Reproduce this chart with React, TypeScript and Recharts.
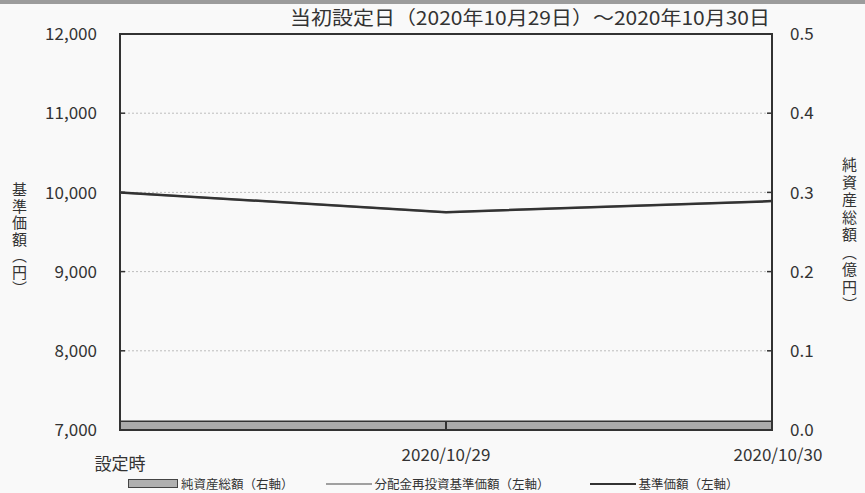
import { ComposedChart, Line, Area, XAxis, YAxis, CartesianGrid, ReferenceArea } from "recharts"

const labels = ["設定時", "2020/10/29", "2020/10/30"]
const navPrice = [10000, 9750, 9890]
const reinvestPrice = [10000, 9750, 9890]
const netAssets = [0.011, 0.011, 0.011]
const leftTicks = [7000, 8000, 9000, 10000, 11000, 12000]
const rightTicks = [0, 0.1, 0.2, 0.3, 0.4, 0.5]

const data = labels.map((label, i) => ({
  label,
  nav: navPrice[i],
  reinvest: reinvestPrice[i],
  assets: netAssets[i],
}))

const FONT = '"Noto Sans CJK JP", "Noto Sans", sans-serif'
const INK = "#333"

function LeftTick({ x, y, payload }: any) {
  return (
    <g>
      <line x1={x} x2={x + 5} y1={y} y2={y} stroke={INK} strokeWidth={1.5} />
      <text x={x - 23} y={y} dy="0.36em" textAnchor="end" fontSize={17} fill={INK} fontFamily={FONT}>
        {Number(payload.value).toLocaleString("en-US")}
      </text>
    </g>
  )
}

function RightTick({ x, y, payload }: any) {
  return (
    <g>
      <line x1={x - 5} x2={x} y1={y} y2={y} stroke={INK} strokeWidth={1.5} />
      <text x={x + 18} y={y} dy="0.36em" textAnchor="start" fontSize={17} fill={INK} fontFamily={FONT}>
        {Number(payload.value).toFixed(1)}
      </text>
    </g>
  )
}

function BottomTick({ x, y, payload, index }: any) {
  const first = index === 0
  const last = index === labels.length - 1
  return (
    <g>
      <line x1={x} x2={x} y1={y - 9} y2={y} stroke={INK} strokeWidth={2} />
      <text
        x={x + (last ? 6 : 0)}
        y={y + (first ? 40 : 31)}
        textAnchor="middle"
        fontSize={17}
        fill={INK}
        fontFamily={FONT}
      >
        {payload.value}
      </text>
    </g>
  )
}

function LegendItem({ kind, text, gap }: { kind: "box" | "grey" | "black"; text: string; gap: number }) {
  const swatch =
    kind === "box" ? (
      <span style={{ display: "inline-block", width: 48, height: 7, background: "#b0b0b0", border: "1px solid #444" }} />
    ) : (
      <span style={{ display: "inline-block", width: 46, height: 2, background: kind === "grey" ? "#a0a0a0" : INK }} />
    )
  return (
    <span style={{ display: "inline-flex", alignItems: "center", gap: 3, marginRight: gap }}>
      {swatch}
      <span>{text}</span>
    </span>
  )
}

export default function App() {
  return (
    <div style={{ position: "relative", width: 865, height: 493, background: "#f9f9f9", fontFamily: FONT, color: INK }}>
      <style>{"body{margin:0}"}</style>
      <div style={{ position: "absolute", left: 0, top: 0, width: 865, height: 4, background: "#9c9c9c" }} />
      <ComposedChart width={865} height={493} data={data} margin={{ top: 34, right: 0, bottom: 0, left: 0 }}>
        <CartesianGrid yAxisId="left" vertical={false} stroke="#bdbdbd" strokeDasharray="2 2" />
        <XAxis
          dataKey="label"
          scale="point"
          padding={{ left: 0, right: 0 }}
          axisLine={false}
          tickLine={false}
          tickSize={0}
          tickMargin={0}
          height={63}
          interval={0}
          tick={<BottomTick />}
        />
        <YAxis
          yAxisId="left"
          domain={[7000, 12000]}
          ticks={leftTicks}
          width={120}
          axisLine={false}
          tickLine={false}
          tickSize={0}
          tickMargin={0}
          tick={<LeftTick />}
        />
        <YAxis
          yAxisId="right"
          orientation="right"
          domain={[0, 0.5]}
          ticks={rightTicks}
          width={93}
          axisLine={false}
          tickLine={false}
          tickSize={0}
          tickMargin={0}
          tick={<RightTick />}
        />
        <Area
          yAxisId="right"
          type="linear"
          dataKey="assets"
          fill="#ababab"
          fillOpacity={1}
          stroke={INK}
          strokeWidth={1.5}
          isAnimationActive={false}
        />
        <Line
          yAxisId="left"
          type="linear"
          dataKey="reinvest"
          stroke="#a0a0a0"
          strokeWidth={2}
          dot={false}
          isAnimationActive={false}
        />
        <Line
          yAxisId="left"
          type="linear"
          dataKey="nav"
          stroke={INK}
          strokeWidth={2.5}
          dot={false}
          isAnimationActive={false}
        />
        <ReferenceArea
          yAxisId="left"
          x1={labels[0]}
          x2={labels[labels.length - 1]}
          y1={7000}
          y2={12000}
          fill="none"
          stroke={INK}
          strokeWidth={2}
          ifOverflow="visible"
        />
      </ComposedChart>
      <svg width={865} height={34} style={{ position: "absolute", left: 0, top: 0 }}>
        <text x={290} y={25} textLength={480} lengthAdjust="spacingAndGlyphs" fontSize={19} fill={INK} fontFamily={FONT}>
          当初設定日（2020年10月29日）～2020年10月30日
        </text>
      </svg>
      <div
        style={{ position: "absolute", left: 12, top: 182, writingMode: "vertical-rl", fontSize: 15, letterSpacing: 1.5, lineHeight: 1 }}
      >
        基準価額（円）
      </div>
      <div
        style={{ position: "absolute", left: 842, top: 157, writingMode: "vertical-rl", fontSize: 15, letterSpacing: 2.5, lineHeight: 1 }}
      >
        純資産総額（億円）
      </div>
      <div style={{ position: "absolute", left: 128, top: 474, fontSize: 12.5, whiteSpace: "nowrap", display: "flex" }}>
        <LegendItem kind="box" text="純資産総額（右軸）" gap={32} />
        <LegendItem kind="grey" text="分配金再投資基準価額（左軸）" gap={40} />
        <LegendItem kind="black" text="基準価額（左軸）" gap={0} />
      </div>
    </div>
  )
}
